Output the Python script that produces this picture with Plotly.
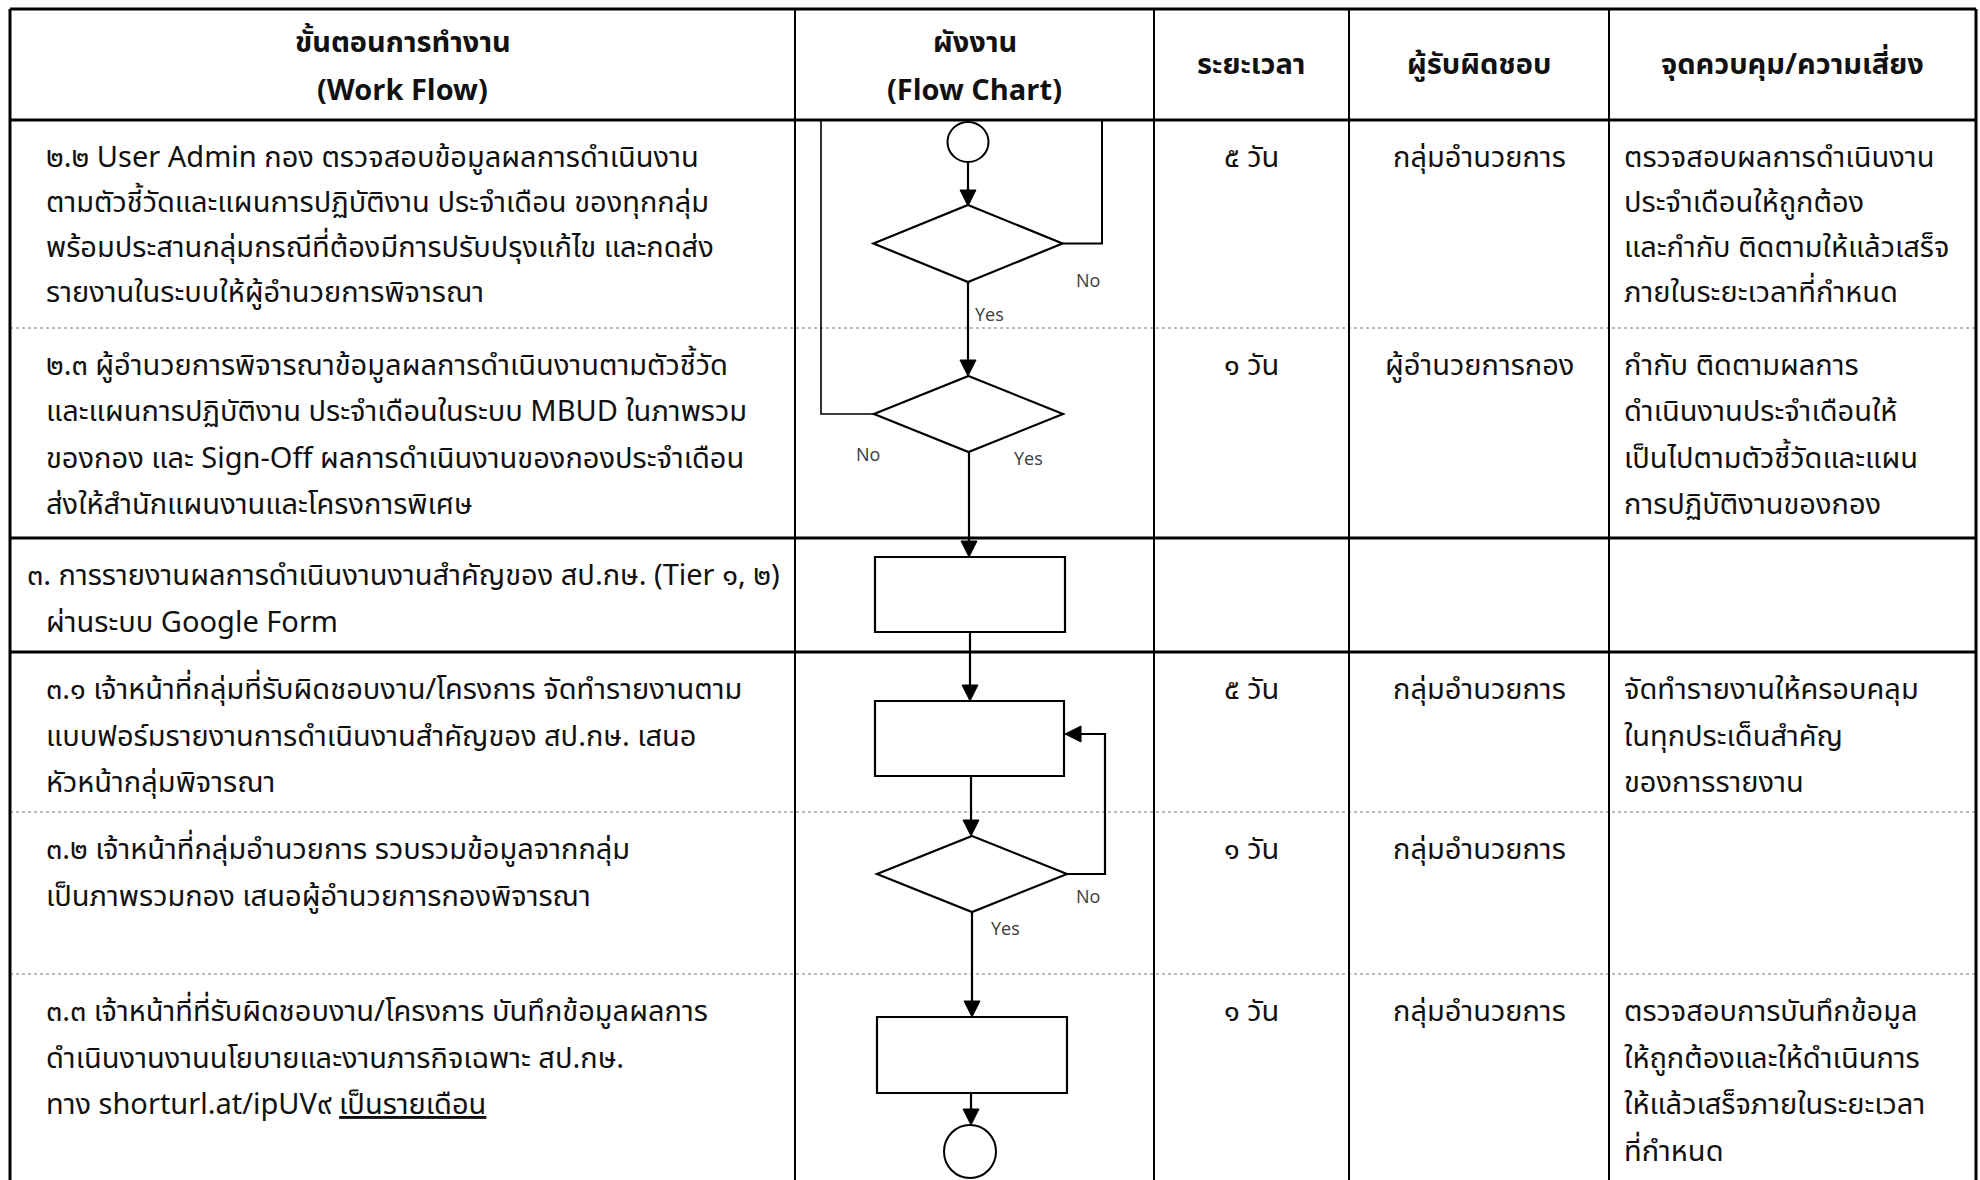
import plotly.graph_objects as go

# ---------------- data ----------------
header_col1 = ["ขั้นตอนการทำงาน", "(Work Flow)"]
header_col2 = ["ผังงาน", "(Flow Chart)"]
header_col3 = "ระยะเวลา"
header_col4 = "ผู้รับผิดชอบ"
header_col5 = "จุดควบคุม/ความเสี่ยง"

steps = [
    ["๒.๒ User Admin กอง ตรวจสอบข้อมูลผลการดำเนินงาน",
     "ตามตัวชี้วัดและแผนการปฏิบัติงาน ประจำเดือน ของทุกกลุ่ม",
     "พร้อมประสานกลุ่มกรณีที่ต้องมีการปรับปรุงแก้ไข และกดส่ง",
     "รายงานในระบบให้ผู้อำนวยการพิจารณา"],
    ["๒.๓ ผู้อำนวยการพิจารณาข้อมูลผลการดำเนินงานตามตัวชี้วัด",
     "และแผนการปฏิบัติงาน ประจำเดือนในระบบ MBUD ในภาพรวม",
     "ของกอง และ Sign-Off ผลการดำเนินงานของกองประจำเดือน",
     "ส่งให้สำนักแผนงานและโครงการพิเศษ"],
    ["๓. การรายงานผลการดำเนินงานงานสำคัญของ สป.กษ. (Tier ๑, ๒)",
     "ผ่านระบบ Google Form"],
    ["๓.๑ เจ้าหน้าที่กลุ่มที่รับผิดชอบงาน/โครงการ จัดทำรายงานตาม",
     "แบบฟอร์มรายงานการดำเนินงานสำคัญของ สป.กษ. เสนอ",
     "หัวหน้ากลุ่มพิจารณา"],
    ["๓.๒ เจ้าหน้าที่กลุ่มอำนวยการ รวบรวมข้อมูลจากกลุ่ม",
     "เป็นภาพรวมกอง เสนอผู้อำนวยการกองพิจารณา"],
    ["๓.๓ เจ้าหน้าที่ที่รับผิดชอบงาน/โครงการ บันทึกข้อมูลผลการ",
     "ดำเนินงานงานนโยบายและงานภารกิจเฉพาะ สป.กษ.",
     "ทาง shorturl.at/ipUV๙ <u>เป็นรายเดือน</u>"],
]
durations = ["๕ วัน", "๑ วัน", "", "๕ วัน", "๑ วัน", "๑ วัน"]
owners = ["กลุ่มอำนวยการ", "ผู้อำนวยการกอง", "", "กลุ่มอำนวยการ", "กลุ่มอำนวยการ", "กลุ่มอำนวยการ"]
controls = [
    ["ตรวจสอบผลการดำเนินงาน", "ประจำเดือนให้ถูกต้อง",
     "และกำกับ ติดตามให้แล้วเสร็จ", "ภายในระยะเวลาที่กำหนด"],
    ["กำกับ ติดตามผลการ", "ดำเนินงานประจำเดือนให้",
     "เป็นไปตามตัวชี้วัดและแผน", "การปฏิบัติงานของกอง"],
    [],
    ["จัดทำรายงานให้ครอบคลุม", "ในทุกประเด็นสำคัญ", "ของการรายงาน"],
    [],
    ["ตรวจสอบการบันทึกข้อมูล", "ให้ถูกต้องและให้ดำเนินการ",
     "ให้แล้วเสร็จภายในระยะเวลา", "ที่กำหนด"],
]
decision_labels = [("No", "Yes"), ("No", "Yes"), ("No", "Yes")]

# ---------------- layout geometry ----------------
W, H = 1980, 1180
X_LEFT, X_RIGHT, Y_TOP = 10, 1976, 9
col_x = [795, 1154, 1349, 1609]
header_bottom = 120
row_tops = [120, 328, 538, 652, 812, 974]
row_line_h = [45, 46.3, 46.5, 46.5, 46.5, 46.5]
row_sep_style = ["thick", "dot", "thick", "thick", "dot", "dot"]
FIRST_OFF = 38

THAI = "Noto Sans Thai, Noto Sans Thai UI, Leelawadee UI, Tahoma, Noto Sans, sans-serif"
FS = 29
BLACK = "#000000"

fig = go.Figure()
shapes = []
ann = []


def line(x0, y0, x1, y1, w=2, color=BLACK, dash=None):
    d = dict(type="line", xref="x", yref="y", x0=x0, y0=y0, x1=x1, y1=y1,
             line=dict(color=color, width=w))
    if dash:
        d["line"]["dash"] = dash
    shapes.append(d)


def path(p, w=2, fill=None):
    d = dict(type="path", xref="x", yref="y", path=p, line=dict(color=BLACK, width=w))
    if fill:
        d["fillcolor"] = fill
    shapes.append(d)


def text(x, y, s, size=FS, anchor="left", bold=False, color="#111111", family=THAI):
    if bold:
        s = "<b>" + s + "</b>"
    ann.append(dict(x=x, y=y, xref="x", yref="y", text=s, showarrow=False,
                    xanchor=anchor, yanchor="middle",
                    font=dict(family=family, size=size, color=color)))


# table frame
line(X_LEFT, Y_TOP, X_RIGHT, Y_TOP, w=3)
line(X_LEFT, header_bottom, X_RIGHT, header_bottom, w=3)
for yt, st in zip(row_tops[1:], row_sep_style[1:]):
    if st == "thick":
        line(X_LEFT, yt, X_RIGHT, yt, w=3)
    else:
        line(X_LEFT, yt, X_RIGHT, yt, w=1, color="#777777", dash="dot")
line(X_LEFT, Y_TOP, X_LEFT, H, w=3)
line(X_RIGHT, Y_TOP, X_RIGHT, H, w=3)
for cx in col_x:
    line(cx, Y_TOP, cx, H, w=2)

# headers
c1 = (X_LEFT + col_x[0]) / 2
c2 = (col_x[0] + col_x[1]) / 2
c3 = (col_x[1] + col_x[2]) / 2
c4 = (col_x[2] + col_x[3]) / 2
c5 = (col_x[3] + X_RIGHT) / 2
text(c1, 43, header_col1[0], anchor="center", bold=True)
text(c1, 91, header_col1[1], anchor="center", bold=True)
text(c2, 43, header_col2[0], anchor="center", bold=True)
text(c2, 91, header_col2[1], anchor="center", bold=True)
text(c3, 65, header_col3, anchor="center", bold=True)
text(c4, 65, header_col4, anchor="center", bold=True)
text(c5, 65, header_col5, anchor="center", bold=True)

# body rows
for i, top in enumerate(row_tops):
    y0 = top + FIRST_OFF
    lh = row_line_h[i]
    for j, s in enumerate(steps[i]):
        x = 44
        if i == 2 and j == 0:
            x = 25
        text(x, y0 + j * lh, s)
    if durations[i]:
        text(c3, y0, durations[i], anchor="center")
    if owners[i]:
        text(c4, y0, owners[i], anchor="center")
    for j, s in enumerate(controls[i]):
        text(1622, y0 + j * lh, s)


# ---------------- flowchart ----------------
def arrow_down(x, y_from, y_tip, hw=8, hh=16):
    line(x, y_from, x, y_tip - hh, w=2.2)
    path(f"M {x-hw},{y_tip-hh} L {x+hw},{y_tip-hh} L {x},{y_tip} Z", w=1, fill=BLACK)


def diamond(cx, cy, hw, hh):
    path(f"M {cx},{cy-hh} L {cx+hw},{cy} L {cx},{cy+hh} L {cx-hw},{cy} Z", w=2.2)


def rect(x0, y0, x1, y1):
    shapes.append(dict(type="rect", xref="x", yref="y", x0=x0, y0=y0, x1=x1, y1=y1,
                       line=dict(color=BLACK, width=2.2)))


def circle(cx, cy, rx, ry):
    shapes.append(dict(type="circle", xref="x", yref="y", x0=cx - rx, y0=cy - ry,
                       x1=cx + rx, y1=cy + ry, line=dict(color=BLACK, width=2)))


circle(968, 142, 20.5, 20)
arrow_down(968, 162, 206)
diamond(968, 243.5, 94.5, 38.5)
path("M 1062,243.5 L 1102,243.5 L 1102,120", w=2)
arrow_down(968, 282, 376)
diamond(968.5, 414, 94.5, 38)
path("M 874,414 L 821,414 L 821,120", w=1.6)
arrow_down(969, 452, 557)
rect(875, 557, 1065, 632)
arrow_down(970, 632, 701)
rect(875, 701, 1064, 776)
arrow_down(971, 776, 836)
diamond(972, 874, 95, 38)
path("M 1067,874 L 1105,874 L 1105,734 L 1081,734", w=2.2)
path("M 1081,726 L 1081,742 L 1065,734 Z", w=1, fill=BLACK)
arrow_down(972, 912, 1017)
rect(877, 1017, 1067, 1093)
arrow_down(971, 1093, 1125)
circle(970, 1151.5, 26, 26.5)

LBL = "Segoe UI, Open Sans, Noto Sans, sans-serif"
lab_pos = [((1088, 280), (989, 314)), ((868, 454), (1028, 458)), ((1088, 896), (1005, 928))]
for (no_lbl, yes_lbl), (pn, py) in zip(decision_labels, lab_pos):
    text(pn[0], pn[1], no_lbl, size=18, anchor="center", color="#3a3a3a", family=LBL)
    text(py[0], py[1], yes_lbl, size=18, anchor="center", color="#3a3a3a", family=LBL)

fig.update_layout(
    width=W, height=H, margin=dict(l=0, r=0, t=0, b=0),
    paper_bgcolor="white", plot_bgcolor="white",
    xaxis=dict(range=[0, W], visible=False, fixedrange=True),
    yaxis=dict(range=[H, 0], visible=False, fixedrange=True),
    shapes=shapes, annotations=ann, showlegend=False,
)

fig.write_html("out.html", config={"displayModeBar": False},
               post_script="document.body.style.margin='0px';document.body.style.overflow='hidden';")
